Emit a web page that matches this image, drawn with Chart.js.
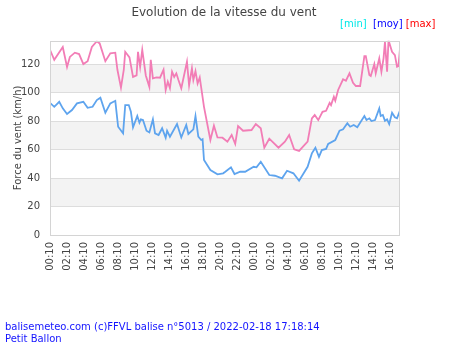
<!DOCTYPE html>
<html>
<head>
<meta charset="utf-8">
<script src="https://cdn.jsdelivr.net/npm/chart.js@4/dist/chart.umd.min.js"></script>
<style>
  body { margin: 0; background: #fff; font-family: "DejaVu Sans", sans-serif; }
  #wrap { position: relative; width: 450px; height: 350px; overflow: hidden; }
  #windChart { position: absolute; left: 0; top: 0; }
  .txt { position: absolute; white-space: nowrap; font-size: 10px; line-height: 12px; }
  #title { left: 0; width: 448px; text-align: center; top: 5px; font-size: 12px; line-height: 14px; color: #444; }
  #legend { top: 18px; left: 340px; }
  #footer { left: 5px; top: 321px; color: #1414ff; }
</style>
</head>
<body>
<div id="wrap">
  <canvas id="windChart" width="450" height="350"></canvas>
  <div id="title" class="txt">Evolution de la vitesse du vent</div>
  <div id="legend" class="txt"><span style="color:#00e8e8">[min]</span>&nbsp; <span style="color:#0000ff">[moy]</span> <span style="color:#ff0000">[max]</span></div>
  <div id="footer" class="txt">balisemeteo.com (c)FFVL balise n°5013 / 2022-02-18 17:18:14<br>Petit Ballon</div>
</div>
<script>
// minutes since 00:10 on the first day
const maxTimes = [0, 30, 90, 120, 140, 175, 205, 235, 265, 295, 330, 350, 390, 425, 460, 475, 500, 520, 530, 560,
  585, 610, 620, 635, 650, 675, 700, 710, 725, 750, 775, 800, 815, 830, 845, 860, 875, 890, 905, 925,
  965, 980, 1000, 1010, 1025, 1040, 1055, 1085, 1130, 1155, 1180, 1215, 1250, 1280, 1305, 1325, 1360, 1420, 1450, 1485,
  1510, 1545, 1610, 1655, 1685, 1720, 1755, 1815, 1845, 1865, 1890, 1920, 1945, 1970, 1980, 2000, 2010, 2030, 2065, 2085,
  2110, 2135, 2155, 2185, 2215, 2225, 2250, 2260, 2285, 2295, 2320, 2335, 2350, 2360, 2375, 2385, 2410, 2430, 2445, 2455, 2465];
const maxValues = [130, 123, 132, 118, 125, 128, 127, 120, 122, 132, 136, 134.5, 122, 127.5, 128, 116, 103.4, 116, 128.6, 124.7,
  111, 112, 128.6, 118, 130, 112, 104, 123, 110, 110.6, 110.4, 116, 101.8, 107.6, 103, 114.6, 111, 113.5, 108.8, 103,
  121.6, 105, 117, 108.8, 115, 106.4, 110.6, 90, 66.7, 76.7, 68.5, 68.3, 65.5, 70.2, 63.9, 76.5, 73.2, 73.7, 77.9, 74.9,
  61.3, 67.6, 61.3, 65.5, 70.2, 60.1, 59, 65.5, 81.9, 84.2, 80.7, 86.5, 87.2, 92.8, 91.2, 97, 94.2, 101.8, 109.3, 108.3,
  113.5, 106.9, 104.6, 104.6, 125.6, 125.6, 112.3, 111.6, 120, 113.5, 124, 114.6, 124, 135.6, 114.6, 136.8, 128.6, 126.3, 118.1, 118.6, 129.8];

const moyTimes = [0, 30, 65, 90, 120, 155, 190, 235, 265, 300, 330, 355, 390, 425, 460, 480, 515, 530, 555, 570,
  585, 615, 630, 640, 655, 680, 700, 725, 740, 765, 790, 815, 825, 845, 895, 925, 960, 975, 1010, 1025,
  1045, 1065, 1075, 1085, 1130, 1180, 1220, 1235, 1275, 1300, 1340, 1375, 1435, 1455, 1485, 1545, 1585, 1635, 1670, 1715,
  1755, 1815, 1845, 1870, 1895, 1915, 1945, 1960, 2010, 2040, 2065, 2095, 2115, 2140, 2165, 2215, 2230, 2250, 2265, 2290,
  2320, 2330, 2345, 2360, 2375, 2390, 2410, 2430, 2445, 2465];
const moyValues = [92.8, 90, 93.5, 88.9, 84.9, 87.7, 92.4, 93.5, 89.3, 90, 94.7, 96.4, 85.8, 92.4, 94.2, 76, 71.4, 91.2, 91.2, 86.5,
  75.6, 83.5, 78.8, 81.2, 80.7, 73.2, 72, 81.2, 71.4, 70.2, 74.9, 68.3, 73.2, 69, 77.9, 68.5, 77.2, 70.9, 74.2, 83.5,
  69, 66.7, 67.2, 52.6, 45.6, 42.6, 43.3, 44.4, 47.5, 42.8, 44.4, 44.4, 47.9, 47.5, 51.4, 42.1, 41.6, 39.8, 45.1, 43.3,
  38.1, 47.9, 57.3, 61.3, 54.9, 59.6, 60.4, 63.9, 66.7, 73.2, 74.2, 78.4, 76, 77.2, 75.6, 83.5, 80.7, 81.9, 80, 80.7,
  88.9, 83.5, 84.2, 80.2, 81.2, 77.9, 85.8, 82.6, 81.9, 87.2];

const xTickLabels = ["00:10", "02:10", "04:10", "06:10", "08:10", "10:10", "12:10", "14:10", "16:10", "18:10", "20:10",
  "22:10", "00:10", "02:10", "04:10", "06:10", "08:10", "10:10", "12:10", "14:10", "16:10"];
const yTicks = [0, 20, 40, 60, 80, 100, 120];

const X_MAX = 2466;
const Y_MAX = 136.4;

function toPoints(times, values) {
  return times.map((t, i) => ({ x: t, y: values[i] }));
}

// alternating grey bands + frame around the plot
const bandsPlugin = {
  id: "bands",
  beforeDraw(chart) {
    const { ctx, chartArea: a, scales: { y } } = chart;
    ctx.save();
    ctx.fillStyle = "#f3f3f3";
    for (let v = 20; v < 120; v += 40) {
      const top = y.getPixelForValue(v + 20);
      const bot = y.getPixelForValue(v);
      ctx.fillRect(a.left, top, a.right - a.left, bot - top);
    }
    ctx.restore();
  },
  afterDraw(chart) {
    const { ctx, chartArea: a } = chart;
    ctx.save();
    ctx.strokeStyle = "#d4d4d4";
    ctx.lineWidth = 1;
    ctx.strokeRect(Math.round(a.left) + 0.5, Math.round(a.top) + 0.5,
      Math.round(a.right - a.left) - 1, Math.round(a.bottom - a.top));
    ctx.restore();
  }
};

const ctx = document.getElementById("windChart").getContext("2d");
new Chart(ctx, {
  type: "line",
  data: {
    datasets: [
      {
        label: "moy",
        data: toPoints(moyTimes, moyValues),
        borderColor: "#5ea4ee",
        borderWidth: 1.8,
        pointRadius: 0,
        tension: 0
      },
      {
        label: "max",
        data: toPoints(maxTimes, maxValues),
        borderColor: "#f27db6",
        borderWidth: 1.8,
        pointRadius: 0,
        tension: 0
      }
    ]
  },
  options: {
    responsive: false,
    animation: false,
    layout: { padding: { top: 40.7, right: 50, bottom: 0, left: 0 } },
    plugins: {
      legend: { display: false },
      title: { display: false },
      tooltip: { enabled: false }
    },
    scales: {
      x: {
        type: "linear",
        min: 0,
        max: X_MAX,
        afterBuildTicks: scale => {
          scale.ticks = xTickLabels.map((_, i) => ({ value: i * 120 }));
        },
        afterFit: scale => { scale.height = 115; },
        grid: { display: false, drawTicks: false },
        border: { display: false },
        ticks: {
          autoSkip: false,
          maxRotation: 90,
          minRotation: 90,
          padding: 7,
          color: "#444",
          font: { family: "DejaVu Sans", size: 10 },
          callback: (v, i) => xTickLabels[i]
        }
      },
      y: {
        min: 0,
        max: Y_MAX,
        afterBuildTicks: scale => {
          scale.ticks = yTicks.map(v => ({ value: v }));
        },
        afterFit: scale => { scale.width = 50; },
        grid: { color: "#dddddd", drawTicks: false },
        border: { display: false },
        ticks: {
          padding: 10,
          color: "#444",
          font: { family: "DejaVu Sans", size: 10 }
        },
        title: {
          display: true,
          text: "Force du vent (km/h)",
          color: "#444",
          font: { family: "DejaVu Sans", size: 10 },
          padding: { top: 12, bottom: 0 }
        }
      }
    }
  },
  plugins: [bandsPlugin]
});
</script>
</body>
</html>
